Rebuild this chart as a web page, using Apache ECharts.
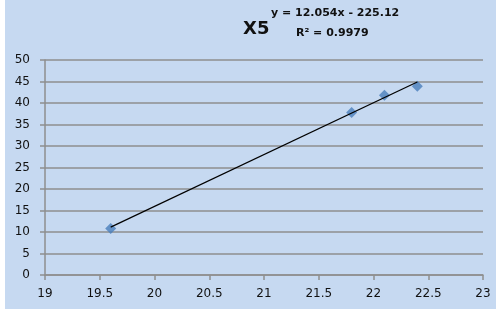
<!DOCTYPE html>
<html>
<head>
<meta charset="utf-8">
<script src="https://cdn.jsdelivr.net/npm/echarts@6/dist/echarts.min.js"></script>
<style>
    body { margin: 0; background: #ffffff; }
    #chart-div { position: absolute; left: 5px; top: 0; width: 491px; height: 309px; background: #c6d9f1; }
</style>
</head>
<body>
<div id="chart-div"></div>
<script>
// data
var xVals = [19.6, 21.8, 22.1, 22.4];
var yVals = [10.8, 37.8, 41.8, 43.9];
// trendline coefficients (from the label)
var slope = 12.054;
var intercept = -225.12;
var eqText = 'y = 12.054x - 225.12';
var r2Text = 'R² = 0.9979';
var titleText = 'X5';

var points = [];
for (var i = 0; i < xVals.length; i++) {
    points.push([xVals[i], yVals[i]]);
}
var xLo = Math.min.apply(null, xVals);
var xHi = Math.max.apply(null, xVals);
var trend = [[xLo, slope * xLo + intercept], [xHi, slope * xHi + intercept]];

var chart = echarts.init(document.getElementById('chart-div'));
var axisGray = '#8e8e8e';
var labelFont = { color: '#111', fontFamily: 'DejaVu Sans', fontSize: 12 };

var option = {
    animation: false,
    title: {
        text: titleText,
        left: 233,
        top: 15,
        textStyle: { fontFamily: 'DejaVu Sans', fontWeight: 'bold', fontSize: 18, color: '#111' }
    },
    graphic: [
        {
            type: 'text', left: 266, top: 8,
            style: { text: eqText, font: 'bold 11px "DejaVu Sans"', fill: '#111' }
        },
        {
            type: 'text', left: 291, top: 28,
            style: { text: r2Text, font: 'bold 11px "DejaVu Sans"', fill: '#111' }
        }
    ],
    grid: { left: 40, right: 13, top: 60, bottom: 34 },
    xAxis: {
        type: 'value',
        min: 19, max: 23, interval: 0.5,
        axisLine: { lineStyle: { color: axisGray, width: 1.5 } },
        axisTick: { show: true, length: 5, lineStyle: { color: axisGray, width: 1.5 } },
        axisLabel: Object.assign({ margin: 13 }, labelFont),
        splitLine: { show: false }
    },
    yAxis: {
        type: 'value',
        min: 0, max: 50, interval: 5,
        axisLine: { show: true, lineStyle: { color: axisGray, width: 1.5 } },
        axisTick: { show: true, length: 5, lineStyle: { color: axisGray, width: 1.5 } },
        axisLabel: Object.assign({ margin: 15 }, labelFont),
        splitLine: { lineStyle: { color: axisGray, width: 1.5 } }
    },
    series: [
        {
            name: 'trend',
            type: 'line',
            data: trend,
            symbol: 'none',
            lineStyle: { color: '#000', width: 1.2 },
            z: 3
        },
        {
            name: 'X5',
            type: 'scatter',
            data: points,
            symbol: 'diamond',
            symbolSize: [11, 11],
            itemStyle: { color: '#4a7ebb' },
            z: 2
        }
    ]
};

chart.setOption(option);
</script>
</body>
</html>
